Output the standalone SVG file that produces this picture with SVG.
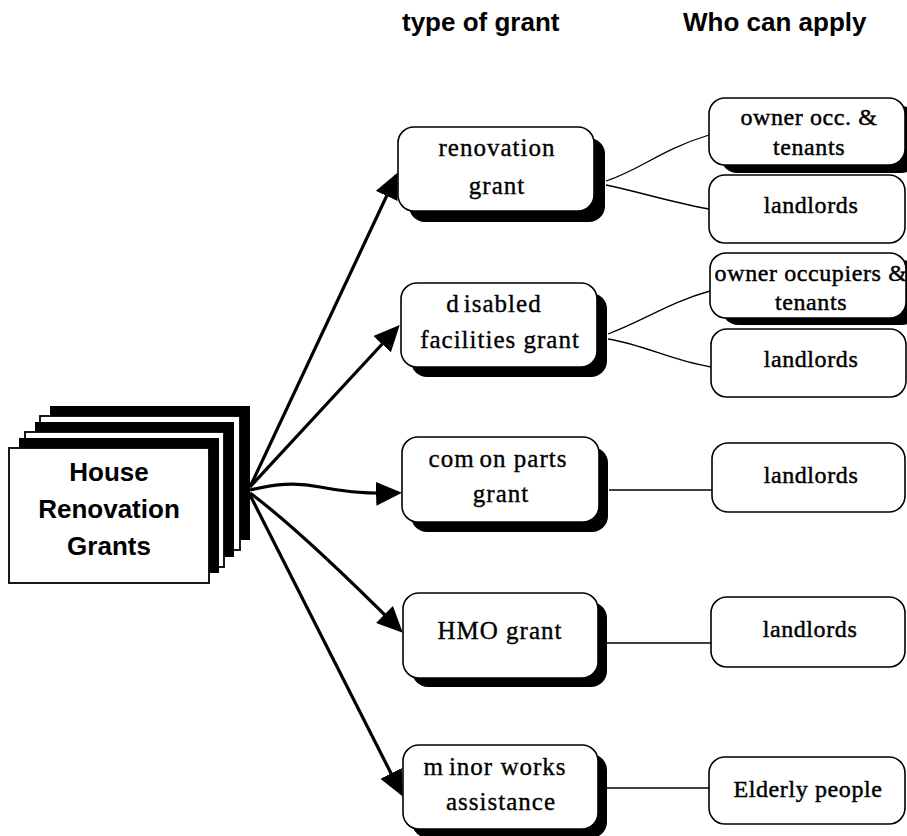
<svg xmlns="http://www.w3.org/2000/svg" width="907" height="836" viewBox="0 0 907 836">
<style>
.hdr{font-family:"Liberation Sans",Arial,sans-serif;font-weight:bold;font-size:26px;fill:#000}
.card{fill:#fff;stroke:#000;stroke-width:1.8}
.cshadow{fill:#000}
.ctext{font-family:"Liberation Sans",Arial,sans-serif;font-weight:bold;font-size:26px;fill:#000;text-anchor:middle}
.box{fill:#fff;stroke:#000;stroke-width:1.6}
.shadow{fill:#000}
.mtext{font-family:"Liberation Serif","Times New Roman",serif;font-size:25px;letter-spacing:1px;fill:#000;stroke:#000;stroke-width:0.35;text-anchor:middle}
.rtext{font-family:"Liberation Serif","Times New Roman",serif;font-size:24px;letter-spacing:0.6px;fill:#000;stroke:#000;stroke-width:0.45;text-anchor:middle}
.arrow{fill:none;stroke:#000;stroke-width:3.2;marker-end:url(#ah)}
.link{fill:none;stroke:#000;stroke-width:1.3}
</style>
<defs>
<marker id="ah" markerUnits="userSpaceOnUse" viewBox="0 0 26 24" markerWidth="26" markerHeight="24" refX="22" refY="12" orient="auto">
<path d="M0,0 L26,12 L0,24 Z" fill="#000"/>
</marker>
</defs>
<rect width="907" height="836" fill="#fff"/>

<g id="headers">
<text class="hdr" x="402" y="31">type of grant</text>
<text class="hdr" x="683" y="31">Who can apply</text>
</g>

<g id="house-renovation-grants">
<rect class="cshadow" x="50" y="406" width="200" height="134"/>
<rect class="card" x="40" y="416" width="200" height="134"/>
<rect class="cshadow" x="35" y="422" width="199" height="135"/>
<rect class="card" x="25" y="432" width="199" height="135"/>
<rect class="cshadow" x="19" y="438" width="200" height="135"/>
<rect class="card" x="9" y="448" width="200" height="135"/>
<text class="ctext" x="109" y="481">House</text>
<text class="ctext" x="109" y="518">Renovation</text>
<text class="ctext" x="109" y="555">Grants</text>
</g>

<g id="connectors">
<path class="arrow" d="M250,487 L396,176"/>
<path class="arrow" d="M250,487 L397,328"/>
<path class="arrow" d="M250,490 C275,484 295,482 320,487 S370,494 398,493"/>
<path class="arrow" d="M250,493 Q300,530 400,630"/>
<path class="arrow" d="M250,495 L401,793"/>
<path class="link" d="M606,181 C640,170 660,150 709,135"/>
<path class="link" d="M606,185 C640,192 670,202 709,209"/>
<path class="link" d="M608,334 C645,320 670,302 710,291"/>
<path class="link" d="M608,339 C645,345 670,360 711,367"/>
<path class="link" d="M609,490 L712,490"/>
<path class="link" d="M604,643 L711,643"/>
<path class="link" d="M604,788 L709,788"/>
</g>

<g id="renovation-grant">
<rect class="shadow" x="409" y="138" width="196" height="84" rx="16"/>
<rect class="box" x="398" y="127" width="196" height="84" rx="16"/>
<text class="mtext" x="497" y="156">renovation</text>
<text class="mtext" x="497" y="194">grant</text>
</g>

<g id="disabled-facilities-grant">
<rect class="shadow" x="411" y="293" width="196" height="84" rx="16"/>
<rect class="box" x="401" y="283" width="196" height="84" rx="16"/>
<text class="mtext" x="494" y="312">d<tspan dx="4">isabled</tspan></text>
<text class="mtext" x="500" y="348">facilities grant</text>
</g>

<g id="comon-parts-grant">
<rect class="shadow" x="411" y="447" width="197" height="85" rx="16"/>
<rect class="box" x="402" y="437" width="197" height="85" rx="16"/>
<text class="mtext" x="498" y="467">com<tspan dx="5">on parts</tspan></text>
<text class="mtext" x="501" y="502">grant</text>
</g>

<g id="hmo-grant">
<rect class="shadow" x="412" y="602" width="195" height="85" rx="16"/>
<rect class="box" x="403" y="593" width="195" height="85" rx="16"/>
<text class="mtext" x="500" y="639">HMO grant</text>
</g>

<g id="minor-works-assistance">
<rect class="shadow" x="412" y="754" width="195" height="84" rx="16"/>
<rect class="box" x="403" y="745" width="195" height="84" rx="16"/>
<text class="mtext" x="495" y="775">m<tspan dx="5">inor works</tspan></text>
<text class="mtext" x="501" y="810">assistance</text>
</g>

<g id="owner-occ-tenants">
<rect class="shadow" x="721" y="106" width="196" height="67" rx="16"/>
<rect class="box" x="709" y="98" width="196" height="67" rx="16"/>
<text class="rtext" x="809" y="125">owner occ. &amp;</text>
<text class="rtext" x="809" y="155">tenants</text>
</g>

<g id="landlords-1">
<rect class="box" x="709" y="175" width="196" height="68" rx="16"/>
<text class="rtext" x="811" y="213">landlords</text>
</g>

<g id="owner-occupiers-tenants">
<rect class="shadow" x="722" y="260" width="196" height="65" rx="16"/>
<rect class="box" x="710" y="253" width="196" height="65" rx="16"/>
<text class="rtext" x="811" y="281">owner occupiers &amp;</text>
<text class="rtext" x="811" y="310">tenants</text>
</g>

<g id="landlords-2">
<rect class="box" x="711" y="329" width="195" height="68" rx="16"/>
<text class="rtext" x="811" y="367">landlords</text>
</g>

<g id="landlords-3">
<rect class="box" x="712" y="443" width="193" height="69" rx="16"/>
<text class="rtext" x="811" y="483">landlords</text>
</g>

<g id="landlords-4">
<rect class="box" x="711" y="597" width="194" height="70" rx="16"/>
<text class="rtext" x="810" y="637">landlords</text>
</g>

<g id="elderly-people">
<rect class="box" x="709" y="757" width="196" height="67" rx="16"/>
<text class="rtext" x="808" y="797">Elderly people</text>
</g>
</svg>
